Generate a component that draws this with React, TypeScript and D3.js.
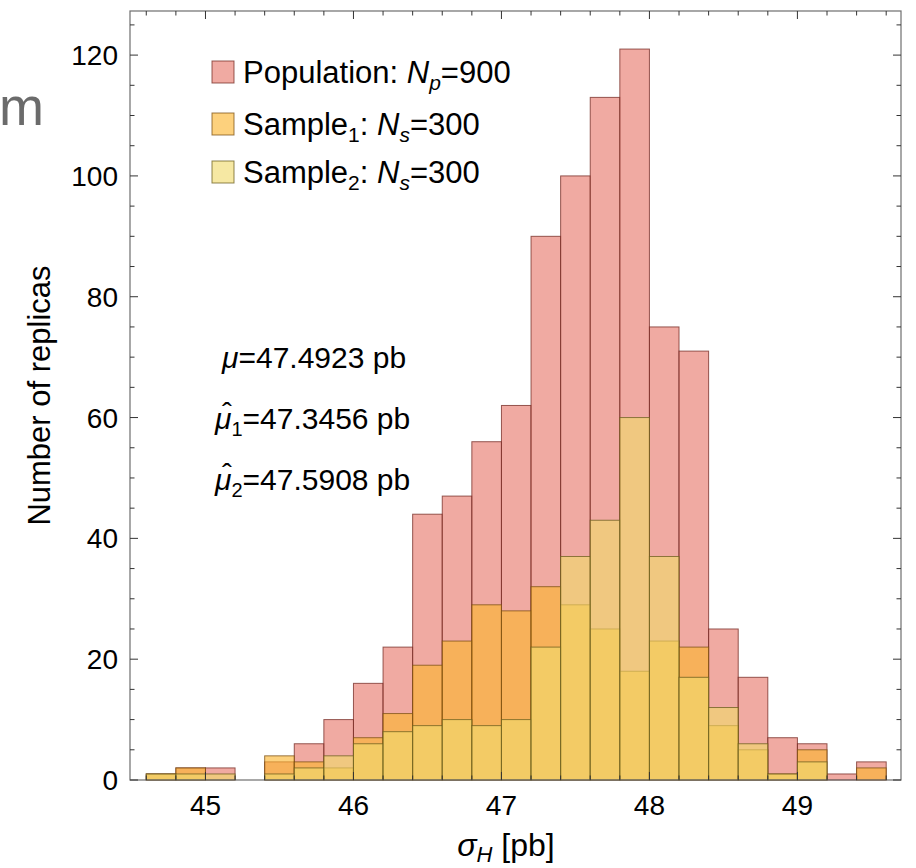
import React from "react";
import * as d3 from "d3";

// ---------- data ----------
const binStarts = [44.6, 44.8, 45.0, 45.2, 45.4, 45.6, 45.8, 46.0, 46.2, 46.4, 46.6, 46.8, 47.0, 47.2, 47.4, 47.6, 47.8, 48.0, 48.2, 48.4, 48.6, 48.8, 49.0, 49.2, 49.4];
const binWidth = 0.2;
const population = [1, 2, 2, 0, 3, 6, 10, 16, 22, 44, 47, 56, 62, 90, 100, 113, 121, 75, 71, 25, 17, 7, 6, 1, 3];
const sample1 = [1, 2, 0, 0, 4, 3, 2, 7, 11, 19, 23, 29, 28, 32, 29, 25, 18, 23, 22, 9, 5, 1, 5, 0, 2];
const sample2 = [1, 1, 1, 0, 1, 2, 4, 6, 8, 9, 10, 9, 10, 22, 37, 43, 60, 37, 17, 12, 6, 1, 3, 0, 0];
const xMajorTicks = [45, 46, 47, 48, 49];
const yMajorTicks = [0, 20, 40, 60, 80, 100, 120];
const annotations = [
  { sym: "μ", hat: false, sub: "", value: "=47.4923 pb" },
  { sym: "μ", hat: true, sub: "1", value: "=47.3456 pb" },
  { sym: "μ", hat: true, sub: "2", value: "=47.5908 pb" },
];

// ---------- layout ----------
const W = 916;
const H = 868;
const L = 130, R = 901, T = 11, B = 780;
const FONT = "'Liberation Sans', Arial, Helvetica, sans-serif";

const series = [
  { name: "pop", values: population, fill: "rgb(231,119,106)", stroke: "rgb(115,40,34)" },
  { name: "s1", values: sample1, fill: "rgb(251,181,47)", stroke: "rgb(120,78,18)" },
  { name: "s2", values: sample2, fill: "rgb(240,218,108)", stroke: "rgb(105,92,28)" },
];
const FILL_OP = 0.625;
const STROKE_OP = 0.75;

export default function App() {
  const x = d3.scaleLinear().domain([44.49, 49.7]).range([L, R]);
  const y = d3.scaleLinear().domain([0, 127.3]).range([B, T]);

  const xMinor = d3.range(44.6, 49.61, 0.2).map((v) => +v.toFixed(1));
  const yMinor = d3.range(0, 126, 5);

  const frameColor = "#6e6e6e";
  const tickColor = "#333";

  return (
    <svg
      width={W}
      height={H}
      style={{ position: "absolute", left: 0, top: 0, background: "#fff" }}
      fontFamily={FONT}
    >
      <rect x={0} y={0} width={W} height={H} fill="#fff" />
      {/* cropped gray 'm' */}
      <text x={44} y={125} fontSize={54} fill="#6b6b6b" textAnchor="end">m</text>

      {/* bars */}
      {series.map((s) => (
        <g key={s.name}>
          {s.values.map((v, i) =>
            v > 0 ? (
              <rect
                key={i}
                x={x(binStarts[i])}
                y={y(v)}
                width={x(binStarts[i] + binWidth) - x(binStarts[i])}
                height={y(0) - y(v)}
                fill={s.fill}
                fillOpacity={FILL_OP}
                stroke={s.stroke}
                strokeOpacity={STROKE_OP}
                strokeWidth={1}
              />
            ) : null
          )}
        </g>
      ))}

      {/* frame */}
      <rect x={L} y={T} width={R - L} height={B - T} fill="none" stroke={frameColor} strokeWidth={1.2} />

      {/* x ticks bottom & top */}
      {xMinor.map((v) => {
        const major = xMajorTicks.some((m) => Math.abs(m - v) < 1e-6);
        const len = major ? 8 : 4.5;
        return (
          <g key={"xt" + v}>
            <line x1={x(v)} x2={x(v)} y1={B} y2={B - len} stroke={tickColor} strokeWidth={1} />
            <line x1={x(v)} x2={x(v)} y1={T} y2={T + len} stroke={tickColor} strokeWidth={1} />
          </g>
        );
      })}
      {xMajorTicks.map((v) => (
        <text key={"xl" + v} x={x(v)} y={B + 35} fontSize={28} textAnchor="middle" fill="#000">
          {v}
        </text>
      ))}

      {/* y ticks left & right */}
      {yMinor.map((v) => {
        const major = v % 20 === 0;
        const len = major ? 8 : 4.5;
        return (
          <g key={"yt" + v}>
            <line x1={L} x2={L + len} y1={y(v)} y2={y(v)} stroke={tickColor} strokeWidth={1} />
            <line x1={R} x2={R - len} y1={y(v)} y2={y(v)} stroke={tickColor} strokeWidth={1} />
          </g>
        );
      })}
      {yMajorTicks.map((v) => (
        <text key={"yl" + v} x={L - 12} y={y(v) + 10} fontSize={28} textAnchor="end" fill="#000">
          {v}
        </text>
      ))}

      {/* axis titles */}
      <text
        transform={`translate(50, ${(T + B) / 2}) rotate(-90)`}
        fontSize={31}
        textAnchor="middle"
        fill="#000"
      >
        Number of replicas
      </text>
      <text x={506} y={856} fontSize={32} textAnchor="middle" fill="#000">
        <tspan fontStyle="italic">σ</tspan>
        <tspan fontStyle="italic" fontSize={22} dy={6}>H</tspan>
        <tspan dy={-6}> [pb]</tspan>
      </text>

      {/* legend */}
      {[
        { s: series[0], y: 72 },
        { s: series[1], y: 124 },
        { s: series[2], y: 172 },
      ].map((row, i) => (
        <g key={"lg" + i}>
          <rect
            x={212}
            y={row.y - 11}
            width={22}
            height={22}
            fill={row.s.fill}
            fillOpacity={FILL_OP}
            stroke={row.s.stroke}
            strokeOpacity={STROKE_OP}
          />
          <text x={243} y={row.y + 11} fontSize={31} fill="#000">
            {i === 0 ? (
              <>
                <tspan>Population: </tspan>
                <tspan fontStyle="italic">N</tspan>
                <tspan fontStyle="italic" fontSize={21} dy={7}>p</tspan>
                <tspan dy={-7}>=900</tspan>
              </>
            ) : (
              <>
                <tspan>Sample</tspan>
                <tspan fontSize={21} dy={7}>{i}</tspan>
                <tspan dy={-7}>: </tspan>
                <tspan fontStyle="italic">N</tspan>
                <tspan fontStyle="italic" fontSize={21} dy={7}>s</tspan>
                <tspan dy={-7}>=300</tspan>
              </>
            )}
          </text>
        </g>
      ))}

      {/* annotations */}
      {annotations.map((a, i) => {
        const baseY = 368 + i * 61;
        const x0 = a.hat ? 215 : 222;
        return (
          <g key={"an" + i}>
            {a.hat ? (
              <text x={x0 + 12} y={baseY - 6} fontSize={30} textAnchor="middle" fill="#000">
                ˆ
              </text>
            ) : null}
            <text x={x0} y={baseY} fontSize={30} fill="#000">
              <tspan fontStyle="italic">{a.sym}</tspan>
              {a.sub ? (
                <>
                  <tspan fontSize={20} dy={7}>{a.sub}</tspan>
                  <tspan dy={-7}>{a.value}</tspan>
                </>
              ) : (
                <tspan>{a.value}</tspan>
              )}
            </text>
          </g>
        );
      })}
    </svg>
  );
}
